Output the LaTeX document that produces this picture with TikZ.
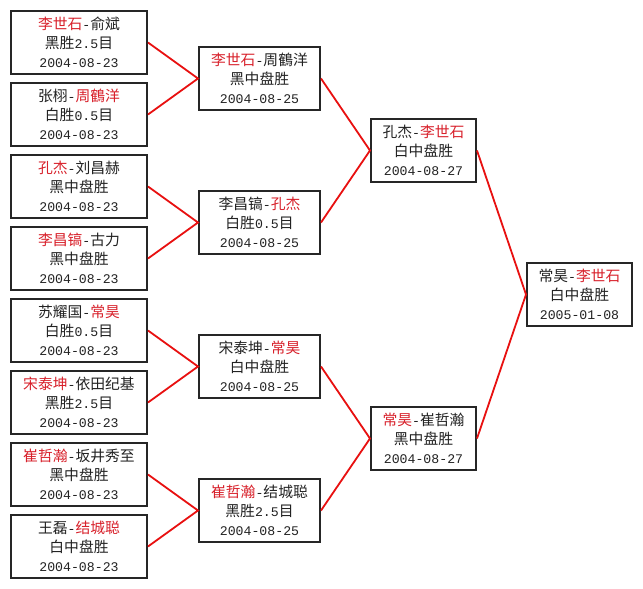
\documentclass[tikz,border=0pt]{standalone}
\usepackage{fontspec}
\newfontfamily\cjk{Noto Sans CJK SC}
\newfontfamily\monofnt{Liberation Mono}
\definecolor{txt}{HTML}{222222}
\definecolor{redtxt}{HTML}{D8202A}
\definecolor{linkred}{HTML}{E81010}
\newcommand\rd[1]{\textcolor{redtxt}{#1}}
\newcommand\nm[1]{{\fontsize{13.2}{19}\monofnt #1}}
\newcommand\hy{\nm{-}}
\begin{document}
\begin{tikzpicture}[x=1pt,y=-1pt,
  game/.style={draw=black!85, line width=2pt, fill=white, align=center,
    inner sep=0pt, font=\cjk\fontsize{14.8}{19}\selectfont, text=txt},
  cA/.style={game, minimum width=136pt, minimum height=63pt},
  cB/.style={game, minimum width=121pt, minimum height=63pt},
  cC/.style={game, minimum width=105pt, minimum height=63pt},
  link/.style={linkred, line width=1.8pt}]
\useasboundingbox[fill=white] (0,0) rectangle (643,589);
% column 1
\node[cA] (a1) at (79,42.5)  {\rd{李世石}\hy 俞斌\\黑胜\nm{2.5}目\\\nm{2004-08-23}};
\node[cA] (a2) at (79,114.5) {张栩\hy\rd{周鶴洋}\\白胜\nm{0.5}目\\\nm{2004-08-23}};
\node[cA] (a3) at (79,186.5) {\rd{孔杰}\hy 刘昌赫\\黑中盘胜\\\nm{2004-08-23}};
\node[cA] (a4) at (79,258.5) {\rd{李昌镐}\hy 古力\\黑中盘胜\\\nm{2004-08-23}};
\node[cA] (a5) at (79,330.5) {苏耀国\hy\rd{常昊}\\白胜\nm{0.5}目\\\nm{2004-08-23}};
\node[cA] (a6) at (79,402.5) {\rd{宋泰坤}\hy 依田纪基\\黑胜\nm{2.5}目\\\nm{2004-08-23}};
\node[cA] (a7) at (79,474.5) {\rd{崔哲瀚}\hy 坂井秀至\\黑中盘胜\\\nm{2004-08-23}};
\node[cA] (a8) at (79,546.5) {王磊\hy\rd{结城聪}\\白中盘胜\\\nm{2004-08-23}};
% column 2
\node[cB] (b1) at (259.5,78.5)  {\rd{李世石}\hy 周鶴洋\\黑中盘胜\\\nm{2004-08-25}};
\node[cB] (b2) at (259.5,222.5) {李昌镐\hy\rd{孔杰}\\白胜\nm{0.5}目\\\nm{2004-08-25}};
\node[cB] (b3) at (259.5,366.5) {宋泰坤\hy\rd{常昊}\\白中盘胜\\\nm{2004-08-25}};
\node[cB] (b4) at (259.5,510.5) {\rd{崔哲瀚}\hy 结城聪\\黑胜\nm{2.5}目\\\nm{2004-08-25}};
% column 3
\node[cC] (c1) at (423.5,150.5) {孔杰\hy\rd{李世石}\\白中盘胜\\\nm{2004-08-27}};
\node[cC] (c2) at (423.5,438.5) {\rd{常昊}\hy 崔哲瀚\\黑中盘胜\\\nm{2004-08-27}};
% column 4
\node[cC] (d1) at (579.5,294.5) {常昊\hy\rd{李世石}\\白中盘胜\\\nm{2005-01-08}};
% connectors
\draw[link] (a1.east) -- (b1.west) -- (a2.east);
\draw[link] (a3.east) -- (b2.west) -- (a4.east);
\draw[link] (a5.east) -- (b3.west) -- (a6.east);
\draw[link] (a7.east) -- (b4.west) -- (a8.east);
\draw[link] (b1.east) -- (c1.west) -- (b2.east);
\draw[link] (b3.east) -- (c2.west) -- (b4.east);
\draw[link] (c1.east) -- (d1.west) -- (c2.east);
\end{tikzpicture}
\end{document}
